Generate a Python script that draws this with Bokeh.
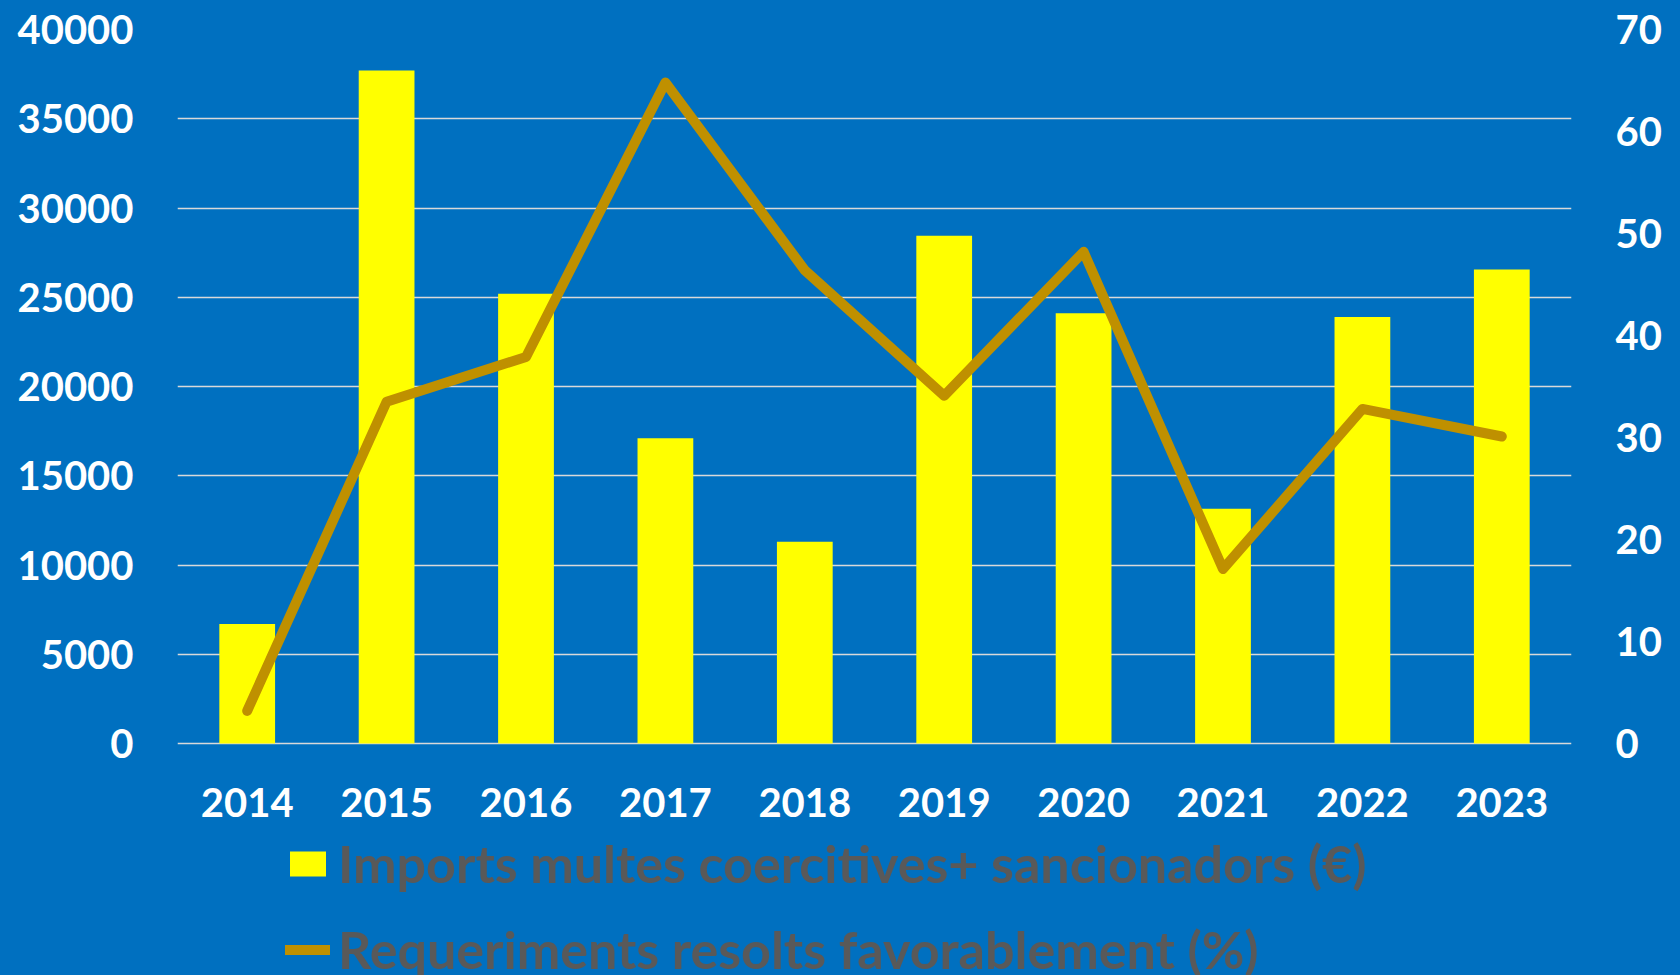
from bokeh.plotting import figure
from bokeh.models import (ColumnDataSource, Range1d, LinearAxis, FactorRange,
                          Legend, LegendItem, FixedTicker, CategoricalAxis)
from bokeh.embed import file_html
from bokeh.resources import INLINE

years = ["2014", "2015", "2016", "2017", "2018", "2019", "2020", "2021", "2022", "2023"]
imports_eur = [6700, 37700, 25200, 17100, 11300, 28450, 24100, 13150, 23900, 26550]
favorable_pct = [3.2, 33.5, 37.9, 64.8, 46.4, 34.1, 48.2, 17.1, 32.8, 30.1]
left_ticks = [0, 5000, 10000, 15000, 20000, 25000, 30000, 35000, 40000]
right_ticks = [0, 10, 20, 30, 40, 50, 60, 70]

BG = "#0070C0"
W, H = 1680, 975
# layout (pixels): value area from y=29 (max) to y=743 (zero); frame runs to canvas bottom
TOP, ZERO = 29, 743
extra = (H - ZERO) / (ZERO - TOP)
LMAX, RMAX = 40000, 70

src = ColumnDataSource(dict(year=years, imp=imports_eur, pct=favorable_pct))

p = figure(width=W, height=H, output_backend="svg", toolbar_location=None,
           x_range=FactorRange(*years, range_padding=0),
           y_range=Range1d(-LMAX * extra, LMAX),
           background_fill_color=BG, border_fill_color=BG, x_axis_location=None,
           min_border_left=177, min_border_right=109,
           min_border_top=TOP, min_border_bottom=0)
p.styles = {"background-color": BG}
p.outline_line_color = None
p.extra_y_ranges = {"pct": Range1d(-RMAX * extra, RMAX)}

bars = p.vbar(x="year", top="imp", bottom=0, width=0.4, source=src,
              fill_color="#FFFF00", line_color=None)
line = p.line(x="year", y="pct", source=src, y_range_name="pct",
              line_color="#BF9000", line_width=10,
              line_cap="round", line_join="round")

FONT = "Lato"

def style_axis(ax):
    ax.axis_line_color = None
    ax.major_tick_line_color = None
    ax.minor_tick_line_color = None
    ax.major_tick_in = 0
    ax.major_tick_out = 0
    ax.major_label_text_color = "white"
    ax.major_label_text_font = FONT
    ax.major_label_text_font_style = "bold"
    ax.major_label_text_font_size = "40px"
    ax.major_label_standoff = 44

p.yaxis.ticker = FixedTicker(ticks=left_ticks)
style_axis(p.yaxis[0])

right = LinearAxis(y_range_name="pct", ticker=FixedTicker(ticks=right_ticks))
style_axis(right)
p.add_layout(right, "right")

xax = CategoricalAxis(fixed_location=0)
style_axis(xax)
p.add_layout(xax, "below")

p.xgrid.grid_line_color = None
p.ygrid.grid_line_color = "#D9D9D9"
p.ygrid.grid_line_width = 1.5
p.ygrid.ticker = FixedTicker(ticks=left_ticks)

legend = Legend(items=[
    LegendItem(label="Imports multes coercitives+ sancionadors (€)", renderers=[bars]),
    LegendItem(label="Requeriments resolts favorablement (%)", renderers=[line]),
], location=(108, -5))
legend.background_fill_alpha = 0
legend.border_line_color = None
legend.padding = 0
legend.margin = 0
legend.glyph_width = 45
legend.glyph_height = 31
legend.label_standoff = 8
legend.spacing = 24
legend.label_text_font = FONT
legend.label_text_font_style = "bold"
legend.label_text_font_size = "52px"
legend.label_text_color = "#595959"
p.add_layout(legend, "center")

open("out.html", "w").write(file_html(p, INLINE))
